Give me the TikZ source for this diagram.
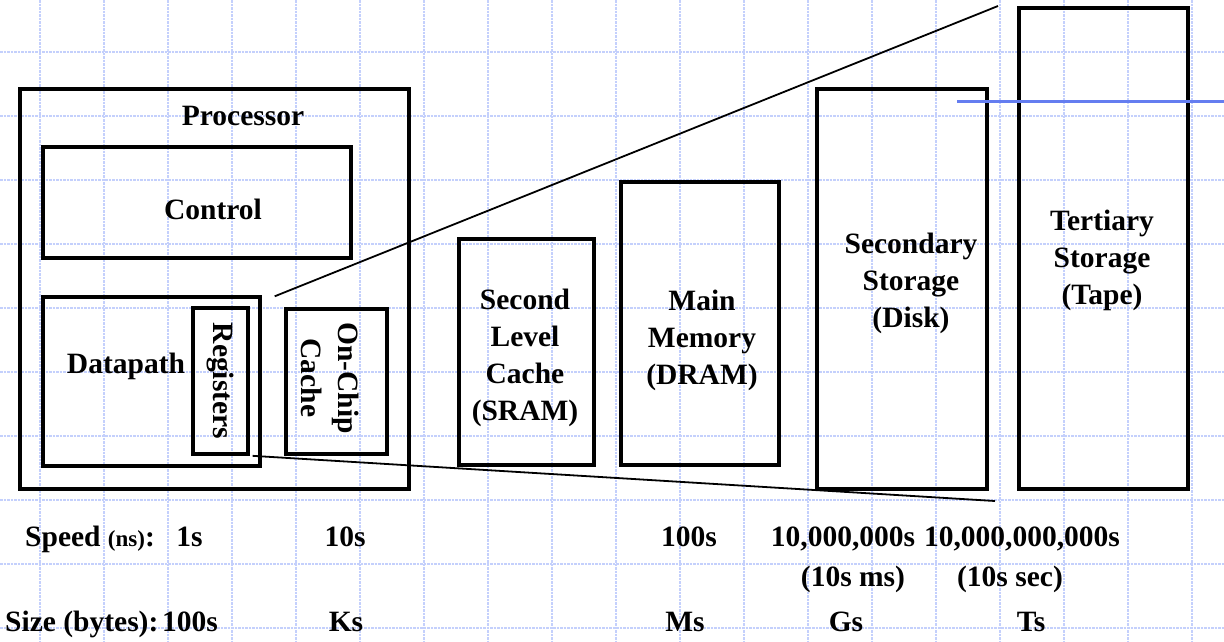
\documentclass[tikz,border=0pt]{standalone}
\usepackage{fontspec}
\setmainfont{Liberation Serif}
\usetikzlibrary{positioning}
\definecolor{gridblue}{RGB}{196,208,252}
\definecolor{slideblue}{RGB}{100,125,240}

\begin{document}
\begin{tikzpicture}[
  x=1pt, y=-1pt,
  box/.style={
    draw,
    line width=3.3pt,
    inner sep=0pt
  },
  lbl/.style={
    font=\fontsize{29.5}{37}\selectfont\bfseries,
    align=center,
    inner sep=0pt
  },
  zoomline/.style={line width=1.8pt},
  gridline/.style={gridblue, dash pattern=on 2.5pt off 1pt, line width=1.1pt}
]
\useasboundingbox (0,0) rectangle (1224,641);

% Slide grid
\foreach \gx in {40,104,...,1192} \draw[gridline] (\gx,0) -- (\gx,641);
\foreach \gy in {52,116,...,628} \draw[gridline] (0,\gy) -- (1224,\gy);

% Processor
\node[box,minimum width=389pt,minimum height=400pt] (proc) at (214.5,289) {};
\node[lbl,anchor=base] (proc_txt) at (243,125) {Processor};

\node[box,minimum width=308pt,minimum height=111pt] (ctrl) at (197,202.5) {};
\node[lbl,anchor=base] (ctrl_txt) at (213,219) {Control};

\node[box,minimum width=217pt,minimum height=169pt] (dpath) at (151.5,381.5) {};
\node[lbl,anchor=base] (dpath_txt) at (126,373) {Datapath};

\node[box,minimum width=55pt,minimum height=146pt] (regs) at (220.5,381) {};
\node[lbl,rotate=-90] (regs_txt) at (220.5,381) {Registers};

\node[box,minimum width=101pt,minimum height=145pt] (chip) at (336.5,381.5) {};
\node[lbl,rotate=-90] (chip_txt) at (330,378) {On-Chip\\Cache};

% Memory levels
\node[box,minimum width=135pt,minimum height=226pt] (l2) at (526.5,352) {};
\node[lbl] (l2_txt) at (525,358) {Second\\Level\\Cache\\(SRAM)};

\node[box,minimum width=158pt,minimum height=283pt] (mem) at (700,323.5) {};
\node[lbl] (mem_txt) at (702,340) {Main\\Memory\\(DRAM)};

\node[box,minimum width=170pt,minimum height=400pt] (disk) at (902,289) {};
\node[lbl] (disk_txt) at (911,283) {Secondary\\Storage\\(Disk)};

\node[box,minimum width=169pt,minimum height=481pt] (tape) at (1103.5,248.5) {};
\node[lbl] (tape_txt) at (1102,260) {Tertiary\\Storage\\(Tape)};

% Zoom lines
\coordinate (zoom_top) at (998,6);
\coordinate (zoom_bot) at (995,501);
\draw[zoomline,shorten <=27pt] (regs.north east) -- (zoom_top);
\draw[zoomline,shorten <=3pt] (regs.south east) -- (zoom_bot);

% Speed row
\node[lbl,anchor=base west] (speed) at (25,546) {Speed {\fontsize{23}{26}\selectfont(ns)}:};
\node[lbl,anchor=base] (speed_reg) at (189.5,546) {1s};
\node[lbl,anchor=base] (speed_chip) at (345,546) {10s};
\node[lbl,anchor=base] (speed_mem) at (689,546) {100s};
\node[lbl,anchor=base] (speed_disk) at (843,546) {10,000,000s};
\node[lbl,anchor=base] (speed_tape) at (1022,546) {10,000,000,000s};
\node[lbl,anchor=base] (speed_disk2) at (853,586) {(10s ms)};
\node[lbl,anchor=base] (speed_tape2) at (1010,586) {(10s sec)};

% Size row
\node[lbl,anchor=base west] (size) at (5,631) {Size (bytes):};
\node[lbl,anchor=base] (size_reg) at (190,631) {100s};
\node[lbl,anchor=base] (size_chip) at (346,631) {Ks};
\node[lbl,anchor=base] (size_mem) at (685,631) {Ms};
\node[lbl,anchor=base] (size_disk) at (846,631) {Gs};
\node[lbl,anchor=base] (size_tape) at (1031,631) {Ts};

% Stray slide line
\coordinate (blue_a) at (957,101);
\coordinate (blue_b) at (1224,101);
\draw[slideblue,line width=3pt] (blue_a) -- (blue_b);

\end{tikzpicture}
\end{document}
